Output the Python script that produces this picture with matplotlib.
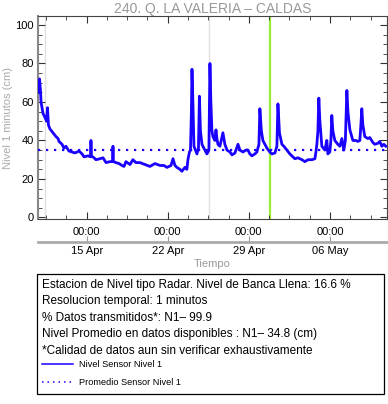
import numpy as np
import pandas as pd
import matplotlib
matplotlib.use("Agg")
import matplotlib.pyplot as plt
import matplotlib.dates as mdates
from matplotlib.patches import Rectangle

plt.rcParams.update({
    "font.family": ["Liberation Sans", "DejaVu Sans"],
    "font.size": 8,
})

# Series: days from 15 Apr 00:00 and level (cm)
dias = [-4.16, -4.07, -3.99, -3.94, -3.77, -3.60, -3.47, -3.38, -3.30, -3.17,
        -2.91, -2.65, -2.47, -2.39, -2.13, -1.96, -1.79, -1.53, -1.27, -1.01,
        -0.66, -0.40, -0.23, 0.11, 0.33, 0.37, 0.41, 0.63, 0.80, 1.15,
        1.41, 1.67, 2.01, 2.23, 2.27, 2.31, 2.53, 2.79, 3.05, 3.22,
        3.39, 3.74, 3.99, 4.25, 4.60, 5.03, 5.46, 5.89, 6.33, 6.67,
        6.93, 7.28, 7.45, 7.62, 7.79, 8.05, 8.22, 8.48, 8.65, 8.74,
        8.87, 8.96, 9.04, 9.09, 9.17, 9.26, 9.39, 9.52, 9.65, 9.73,
        9.82, 9.95, 10.03, 10.21, 10.38, 10.55, 10.60, 10.64, 10.72, 10.81,
        10.90, 11.07, 11.16, 11.24, 11.33, 11.50, 11.76, 11.93, 12.11, 12.37,
        12.54, 12.80, 13.06, 13.23, 13.49, 13.74, 13.92, 14.09, 14.26, 14.52,
        14.69, 14.87, 14.95, 15.08, 15.21, 15.38, 15.56, 15.81, 15.99, 16.25,
        16.42, 16.51, 16.64, 16.85, 17.02, 17.28, 17.54, 17.71, 17.97, 18.23,
        18.58, 18.84, 19.10, 19.44, 19.70, 19.79, 19.87, 19.96, 20.04, 20.13,
        20.30, 20.56, 20.73, 20.82, 20.99, 21.08, 21.16, 21.25, 21.42, 21.68,
        21.86, 22.03, 22.20, 22.33, 22.46, 22.55, 22.72, 22.98, 23.24, 23.41,
        23.58, 23.67, 23.75, 23.84, 24.01, 24.27, 24.44, 24.70, 24.87, 25.13,
        25.30, 25.48, 25.65, 25.82]
nivel = [65, 72, 66, 60, 54, 52, 50, 57, 48, 46,
         44, 42, 41, 39.5, 38, 36, 37, 34.5, 34, 33.5,
         34.5, 33, 31.5, 32, 31.5, 40, 32, 31, 30, 30.5,
         31, 28.5, 29, 29, 37, 29, 28.5, 28, 27, 26.5,
         29, 27.5, 30, 28.5, 28.5, 27.5, 26.5, 28, 27, 27,
         26, 27, 30.5, 27, 26, 25, 24, 26, 25, 30,
         34, 35, 55, 77, 60, 37, 35, 33, 36, 63,
         45, 38, 37, 35, 33, 35, 60, 80, 60, 45,
         42, 40, 45.5, 41, 38, 37, 44, 38, 35, 34,
         32.5, 33.5, 38, 35, 34, 35, 35, 33, 32, 33,
         34, 38, 56.5, 45, 40, 38, 36, 34, 33, 33.5,
         37, 59, 44, 38, 37, 35, 33, 32, 30.5, 31,
         30, 29, 30, 30, 30.5, 34, 38, 45, 62, 50,
         37, 35, 40, 33, 34, 40, 53, 45, 40, 38,
         37, 41, 35, 40, 66, 55, 45.5, 40, 40, 39.5,
         40, 48, 56.5, 48, 42, 41, 41.5, 39, 38, 38.5,
         39.5, 37, 38, 37]
promedio = 34.8
inicio_eje = -4.20
fin_eje = 25.91
marca_gris = [-3.60, 10.55]
marca_verde = 15.83

ref = pd.Timestamp("2024-04-15 00:00")
t = ref + pd.to_timedelta(dias, unit="D")
t_ini = ref + pd.to_timedelta(inicio_eje, unit="D")
t_fin = ref + pd.to_timedelta(fin_eje, unit="D")

fig = plt.figure(figsize=(3.88, 4.04), dpi=100)
ax = fig.add_axes([0.098, 0.458, 0.899, 0.502])

for d in marca_gris:
    ax.axvline(ref + pd.Timedelta(days=d), color="#e0e0e0", lw=1, zorder=1)
ax.axvline(ref + pd.Timedelta(days=marca_verde), color="#99ee33", lw=1.6, zorder=1)

l1, = ax.plot(t, nivel, color="#1a00ff", lw=2.0, zorder=3, label="Nivel Sensor Nivel 1")
l2, = ax.plot([t_ini, t_fin], [promedio, promedio], color="#1a00ff", lw=1.6,
              linestyle=(0, (1, 2.6)), zorder=4, label="Promedio Sensor Nivel 1")

ax.set_xlim(t_ini, t_fin)
ax.set_ylim(-0.8, 104.6)
ax.set_yticks(np.arange(0, 101, 20))
ax.set_yticks(np.arange(0, 105, 5), minor=True)

semanas = [ref + pd.Timedelta(days=7 * k) for k in range(4)]
ax.set_xticks(semanas)
ax.xaxis.set_major_formatter(mdates.DateFormatter("%H:%M"))
menores = [ref + pd.Timedelta(days=1.75 * k) for k in range(-2, 15)]
ax.set_xticks(menores, minor=True)

ax.tick_params(which="both", direction="in", top=True, right=True, colors="#333333",
               labelcolor="black", labelsize=8)
ax.tick_params(which="major", length=5, width=0.8)
ax.tick_params(which="minor", length=3, width=0.6)
ax.tick_params(axis="x", pad=6)
ax.tick_params(axis="y", pad=3)
for s in ax.spines.values():
    s.set_color("#444444")
    s.set_linewidth(0.8)
ax.spines["left"].set_color("#888888")
ax.spines["left"].set_linewidth(1.5)

ax.set_title("240. Q. LA VALERIA \u2013 CALDAS", color="#999999", fontsize=10, pad=2)
ax.set_ylabel("Nivel 1 minutos (cm)", color="#aaaaaa", fontsize=8, labelpad=2)

sec = ax.secondary_xaxis(-0.113)
sec.set_xticks(semanas)
sec.xaxis.set_major_formatter(mdates.DateFormatter("%d %b"))
sec.tick_params(direction="in", length=4, colors="#999999", labelcolor="black",
                labelsize=8, pad=3)
sec.spines["bottom"].set_color("#aaaaaa")
sec.spines["bottom"].set_linewidth(2)
sec.set_xlabel("Tiempo", color="#999999", fontsize=8, labelpad=2)

# Info box under the chart
fig.patches.append(Rectangle((0.095, 0.025), 0.895, 0.297, transform=fig.transFigure,
                             fill=False, edgecolor="black", lw=0.9))
lineas = [
    "Estacion de Nivel tipo Radar. Nivel de Banca Llena: 16.6 %",
    "Resolucion temporal: 1 minutos",
    "% Datos transmitidos*: N1\u2013 99.9",
    "Nivel Promedio en datos disponibles : N1\u2013 34.8 (cm)",
    "*Calidad de datos aun sin verificar exhaustivamente",
]
for i, txt in enumerate(lineas):
    fig.text(0.108, 1 - (285 + 16.4 * i) / 404, txt, fontsize=8.5, va="center")

leg = fig.legend(handles=[l1, l2], loc="upper left", bbox_to_anchor=(0.104, 1 - 358 / 404),
                 frameon=False, fontsize=6.6, handlelength=3.4, handletextpad=0.6,
                 labelspacing=1.0, borderpad=0.2, borderaxespad=0.0)
for h in leg.legend_handles:
    h.set_linewidth(1.1)

fig.savefig("out.png", dpi=100)
